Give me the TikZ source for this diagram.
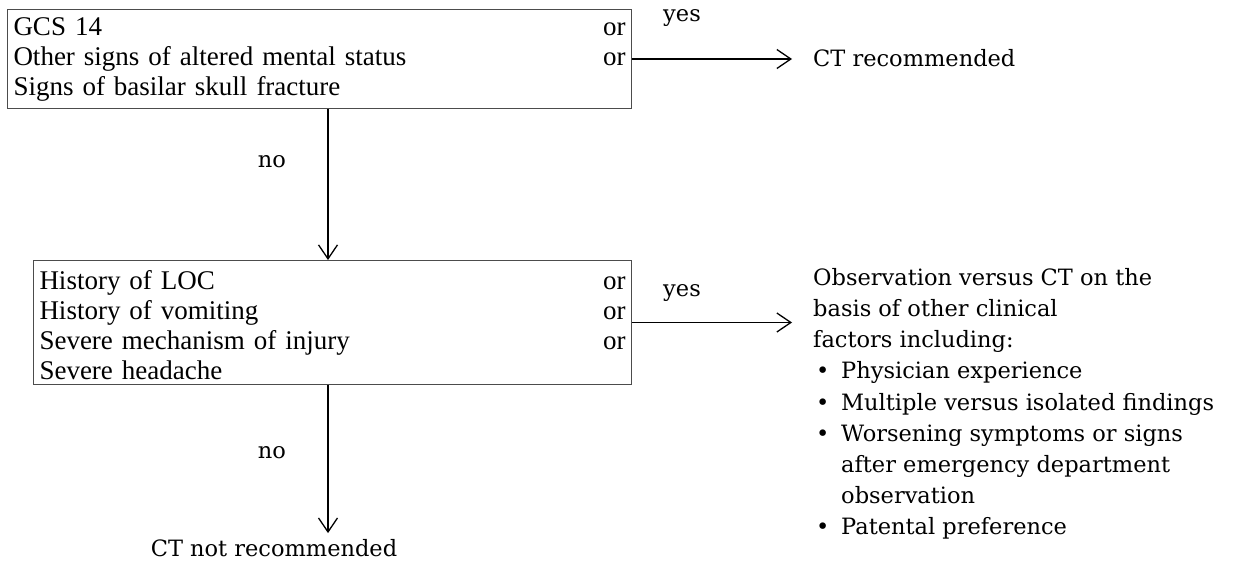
\documentclass[tikz,border=0pt]{standalone}
\usepackage{fontspec}
\setmainfont{Liberation Serif}
\newfontfamily\outfont{DejaVu Serif}
\usetikzlibrary{arrows.meta}
\newcommand\myboxfont{\fontsize{27}{30}\selectfont\spaceskip 0.22em plus 0.05em minus 0.05em\relax}
\begin{document}
\begin{tikzpicture}[x=1pt,y=-1pt,
  box/.style={draw=black!70, line width=1pt, anchor=north west, inner xsep=6pt, inner ysep=0pt,
    align=left, font=\myboxfont},
  lbl/.style={font=\outfont\fontsize{22.5}{31.2}\selectfont, inner sep=0pt},
  arr/.style={line width=1.4pt, -{Straight Barb[length=14pt,width=19pt,line width=1.3pt]}}
]
\useasboundingbox (0,0) rectangle (1234,562);
\coordinate (ax) at (328,0);
\node[box, minimum width=624pt, minimum height=99pt, text width=612pt] (b1) at (7,9)
  {GCS 14\hfill or\\Other signs of altered mental status\hfill or\\Signs of basilar skull fracture};
\node[box, minimum width=598pt, minimum height=124pt, text width=586pt] (b2) at (33,260)
  {\rule{0pt}{25pt}History of LOC\hfill or\\History of vomiting\hfill or\\Severe mechanism of injury\hfill or\\Severe headache};
\node[lbl, anchor=west] (rec) at (813,58) {CT recommended};
\node[lbl, anchor=north west, align=left] (obs) at (813,268)
  {Observation versus CT on the\\basis of other clinical\\factors including:\\
   \makebox[28pt][l]{\hspace*{3pt}•}Physician experience\\
   \makebox[28pt][l]{\hspace*{3pt}•}Multiple versus isolated findings\\
   \makebox[28pt][l]{\hspace*{3pt}•}Worsening symptoms or signs\\
   \hspace*{28pt}after emergency department\\
   \hspace*{28pt}observation\\
   \makebox[28pt][l]{\hspace*{3pt}•}Patental preference};
\node[lbl] (notrec) at (274,548) {CT not recommended};
\node[lbl] (yes1) at (682,18) {yes};
\node[lbl] (yes2) at (682,293) {yes};
\node[lbl] (no1) at (272,162) {no};
\node[lbl] (no2) at (272,453) {no};
\draw[arr] (b1.east) -- ([xshift=-21pt]rec.west |- b1.east);
\draw[arr] (b2.east) -- ([xshift=-21pt]obs.west |- b2.east);
\draw[arr] (b1.south -| ax) -- (b2.north -| ax);
\draw[arr] (b2.south -| ax) -- ([yshift=6pt]notrec.north -| ax);
\end{tikzpicture}
\end{document}
